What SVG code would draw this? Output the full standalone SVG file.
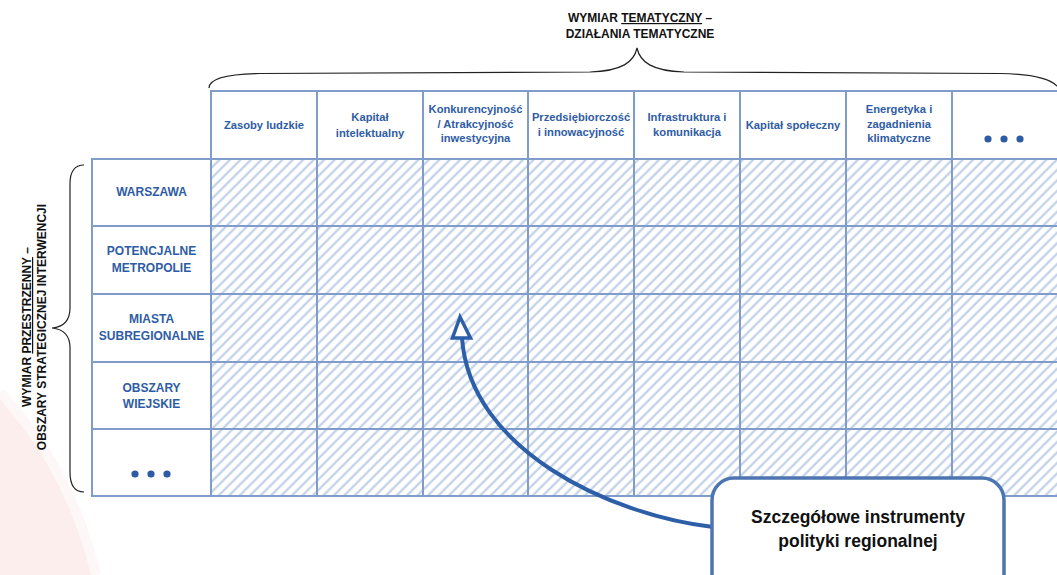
<svg xmlns="http://www.w3.org/2000/svg" width="1057" height="575" viewBox="0 0 1057 575">
<style>
.hd{font-family:"Liberation Sans",Arial,sans-serif;font-weight:bold;font-size:11.2px;fill:#2e5ca4;text-anchor:middle}
.rw{font-family:"Liberation Sans",Arial,sans-serif;font-weight:bold;font-size:12px;fill:#2e5ca4;text-anchor:middle}
.ttl{font-family:"Liberation Sans",Arial,sans-serif;font-weight:bold;font-size:12px;fill:#111;text-anchor:middle}
.box{font-family:"Liberation Sans",Arial,sans-serif;font-weight:bold;font-size:17.5px;fill:#111;text-anchor:middle}
.cell{fill:#fff;stroke:#7f9cca;stroke-width:2}
.grid{stroke:#7f9cca;stroke-width:2;fill:none}
.brace{fill:none;stroke:#222;stroke-width:1.2}
.dot{fill:#2e5ca4}
</style>
<defs>
<pattern id="hatch" patternUnits="userSpaceOnUse" width="7.4" height="7.4" patternTransform="rotate(45)">
<rect width="7.4" height="7.4" fill="#fff"/>
<line x1="1.8" y1="0" x2="1.8" y2="7.4" stroke="#c3d2e8" stroke-width="2.3"/>
</pattern>
</defs>
<rect width="1057" height="575" fill="#fff"/>
<path d="M0,392 C38,434 76,490 96,575 L0,575 Z" fill="#fdeeee"/>
<path d="M0,392 C38,434 76,490 96,575" fill="none" stroke="#fef7f7" stroke-width="10"/>

<g id="title-top">
<text class="ttl" x="640" y="22">WYMIAR <tspan style="text-decoration:underline">TEMATYCZNY</tspan> –</text>
<text class="ttl" x="640" y="38">DZIAŁANIA TEMATYCZNE</text>
<path class="brace" d="M209,88 C209,79 225,74 260,73.5 L590,72 C622,71 634,62 637,48 C640,62 652,71 684,72 L1000,73.5 C1035,74 1055,80 1060,90"/>
</g>

<g id="title-left">
<text class="ttl" transform="translate(31,327) rotate(-90)" x="0" y="0">WYMIAR <tspan style="text-decoration:underline">PRZESTRZENNY</tspan> –</text>
<text class="ttl" transform="translate(46,327) rotate(-90)" x="0" y="0">OBSZARY STRATEGICZNEJ INTERWENCJI</text>
<path class="brace" d="M84,165 C75,165 70,170 70,184 L70,308 C70,322 63,327 52,328 C63,329 70,334 70,348 L70,472 C70,486 75,492 84,492"/>
</g>

<g id="hatched-area">
<rect x="211" y="159" width="860" height="337" fill="url(#hatch)"/>
</g>

<g id="col-1"><rect class="cell" x="211" y="91" width="106" height="68"/><text class="hd" x="264" y="128.5">Zasoby ludzkie</text></g>
<g id="col-2"><rect class="cell" x="317" y="91" width="106" height="68"/><text class="hd" x="370" y="121">Kapitał</text><text class="hd" x="370" y="136.5">intelektualny</text></g>
<g id="col-3"><rect class="cell" x="423" y="91" width="105" height="68"/><text class="hd" x="475.5" y="113">Konkurencyjność</text><text class="hd" x="475.5" y="127.5">/ Atrakcyjność</text><text class="hd" x="475.5" y="142">inwestycyjna</text></g>
<g id="col-4"><rect class="cell" x="528" y="91" width="106" height="68"/><text class="hd" x="581" y="121">Przedsiębiorczość</text><text class="hd" x="581" y="135.5">i innowacyjność</text></g>
<g id="col-5"><rect class="cell" x="634" y="91" width="106" height="68"/><text class="hd" x="687" y="121">Infrastruktura i</text><text class="hd" x="687" y="135.5">komunikacja</text></g>
<g id="col-6"><rect class="cell" x="740" y="91" width="106" height="68"/><text class="hd" x="793" y="128.5">Kapitał społeczny</text></g>
<g id="col-7"><rect class="cell" x="846" y="91" width="106" height="68"/><text class="hd" x="899" y="113">Energetyka i</text><text class="hd" x="899" y="127.5">zagadnienia</text><text class="hd" x="899" y="142">klimatyczne</text></g>
<g id="col-8"><rect class="cell" x="952" y="91" width="120" height="68"/><circle class="dot" cx="988" cy="139" r="3.6"/><circle class="dot" cx="1004" cy="139" r="3.6"/><circle class="dot" cx="1020" cy="139" r="3.6"/></g>

<g id="row-1"><rect class="cell" x="92" y="159" width="119" height="67"/><text class="rw" x="151.5" y="196">WARSZAWA</text></g>
<g id="row-2"><rect class="cell" x="92" y="226" width="119" height="68"/><text class="rw" x="151.5" y="255">POTENCJALNE</text><text class="rw" x="151.5" y="272">METROPOLIE</text></g>
<g id="row-3"><rect class="cell" x="92" y="294" width="119" height="68"/><text class="rw" x="151.5" y="323">MIASTA</text><text class="rw" x="151.5" y="340">SUBREGIONALNE</text></g>
<g id="row-4"><rect class="cell" x="92" y="362" width="119" height="67"/><text class="rw" x="151.5" y="391.5">OBSZARY</text><text class="rw" x="151.5" y="408">WIEJSKIE</text></g>
<g id="row-5"><rect class="cell" x="92" y="429" width="119" height="67"/><circle class="dot" cx="135" cy="474" r="3.6"/><circle class="dot" cx="151" cy="474" r="3.6"/><circle class="dot" cx="167" cy="474" r="3.6"/></g>

<g id="grid" class="grid">
<path d="M211,226H1057M211,294H1057M211,362H1057M211,429H1057M211,496H1057M211,159H1057"/>
<path d="M317,159V496M423,159V496M528,159V496M634,159V496M740,159V496M846,159V496M952,159V496M211,159V496"/>
</g>

<g id="connectors">
<path d="M713,527 C610,515 470,450 462,338" fill="none" stroke="#2d5ea8" stroke-width="4"/>
<polygon points="460,317 452.5,338 470.5,338" fill="#fff" stroke="#2d5ea8" stroke-width="3.5" stroke-linejoin="miter"/>
</g>

<g id="node-instrumenty">
<rect x="712" y="478" width="292" height="130" rx="22" fill="#fff" stroke="#4d75b1" stroke-width="3.5"/>
<text class="box" x="858" y="523">Szczegółowe instrumenty</text>
<text class="box" x="858" y="547">polityki regionalnej</text>
</g>
</svg>
